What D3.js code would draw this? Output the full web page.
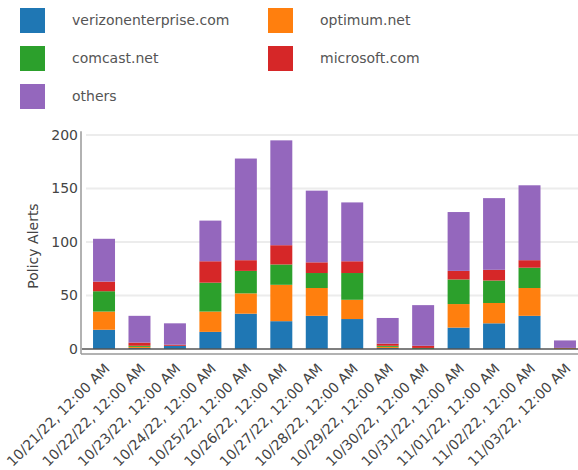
<!DOCTYPE html>
<html>
<head>
<meta charset="utf-8">
<script src="https://cdn.jsdelivr.net/npm/d3@7"></script>
<style>
  body { margin: 0; background: #fff; }
  svg text { font-family: "DejaVu Sans", sans-serif; }
</style>
</head>
<body>
<div id="chart"></div>
<script>
// chart data
const dates = ["10/21/22, 12:00 AM", "10/22/22, 12:00 AM", "10/23/22, 12:00 AM", "10/24/22, 12:00 AM",
    "10/25/22, 12:00 AM", "10/26/22, 12:00 AM", "10/27/22, 12:00 AM", "10/28/22, 12:00 AM",
    "10/29/22, 12:00 AM", "10/30/22, 12:00 AM", "10/31/22, 12:00 AM", "11/01/22, 12:00 AM",
    "11/02/22, 12:00 AM", "11/03/22, 12:00 AM"];
const seriesNames = ["verizonenterprise.com", "optimum.net", "comcast.net", "microsoft.com", "others"];
const verizon   = [18, 1, 3, 16, 33, 26, 31, 28, 1, 0, 20, 24, 31, 0];
const optimum   = [17, 1, 0, 19, 19, 34, 26, 18, 1, 0, 22, 19, 26, 1];
const comcast   = [19, 1, 0, 27, 21, 19, 14, 25, 1, 1, 23, 21, 19, 0];
const microsoft = [9, 3, 1, 20, 10, 18, 10, 11, 2, 2, 8, 10, 7, 0];
const others    = [40, 25, 20, 38, 95, 98, 67, 55, 24, 38, 55, 67, 70, 7];
const yTicks = [0, 50, 100, 150, 200];

const W = 578, H = 470;
const colors = d3.scaleOrdinal(seriesNames, d3.schemeCategory10);

const svg = d3.select('#chart').append('svg')
    .attr('width', W)
    .attr('height', H);

// rows for the stack
const rows = dates.map((d, i) => ({
    date: d,
    "verizonenterprise.com": verizon[i],
    "optimum.net": optimum[i],
    "comcast.net": comcast[i],
    "microsoft.com": microsoft[i],
    "others": others[i]
}));
const stacked = d3.stack().keys(seriesNames)(rows);

const x = d3.scaleBand()
    .domain(dates)
    .range([86.3, 582.7])
    .paddingInner(0.38)
    .paddingOuter(0.19);

const y = d3.scaleLinear()
    .domain([0, 200])
    .range([349, 135]);

// gridlines
svg.append('g')
    .selectAll('line')
    .data(yTicks.filter(t => t > 0))
    .join('line')
    .attr('x1', 86).attr('x2', W)
    .attr('y1', d => y(d)).attr('y2', d => y(d))
    .attr('stroke', '#ececec')
    .attr('stroke-width', 2);

// y axis
const yAxis = svg.append('g')
    .attr('transform', 'translate(78,0)')
    .call(d3.axisLeft(y).tickValues(yTicks).tickSize(0).tickPadding(0));
yAxis.select('.domain').remove();
yAxis.selectAll('text')
    .attr('font-size', 14)
    .attr('fill', '#444')
    .attr('font-family', '"DejaVu Sans", sans-serif');

svg.append('line')
    .attr('x1', 81).attr('x2', 81)
    .attr('y1', y(203.5)).attr('y2', y(0) + 5)
    .attr('stroke', '#999')
    .attr('stroke-width', 1.5);

svg.append('text')
    .attr('transform', `translate(38,${(y(0) + y(200)) / 2 + 4}) rotate(-90)`)
    .attr('text-anchor', 'middle')
    .attr('font-size', 14)
    .attr('fill', '#444')
    .text('Policy Alerts');

// bars
svg.append('g')
    .selectAll('g')
    .data(stacked)
    .join('g')
    .attr('fill', d => colors(d.key))
    .selectAll('rect')
    .data(d => d)
    .join('rect')
    .attr('x', d => x(d.data.date))
    .attr('y', d => y(d[1]))
    .attr('width', x.bandwidth())
    .attr('height', d => y(d[0]) - y(d[1]));

// zero line and bottom axis line
svg.append('line')
    .attr('x1', 82).attr('x2', W)
    .attr('y1', y(0)).attr('y2', y(0))
    .attr('stroke', '#555')
    .attr('stroke-width', 1.5);
svg.append('line')
    .attr('x1', 81).attr('x2', W)
    .attr('y1', y(0) + 5).attr('y2', y(0) + 5)
    .attr('stroke', '#999')
    .attr('stroke-width', 1.5);

// x labels
const xAxis = svg.append('g')
    .attr('transform', `translate(0,${y(0) + 5})`)
    .call(d3.axisBottom(x).tickSize(0).tickPadding(0));
xAxis.select('.domain').remove();
xAxis.selectAll('text')
    .attr('font-size', 14)
    .attr('fill', '#444')
    .attr('font-family', '"DejaVu Sans", sans-serif')
    .attr('text-anchor', 'end')
    .attr('dy', '0.35em')
    .attr('transform', 'translate(3,12) rotate(-45)');

// legend
const legendPos = [[20, 8], [268, 8], [20, 46], [268, 46], [20, 84]];
const legend = svg.append('g')
    .selectAll('g')
    .data(seriesNames)
    .join('g')
    .attr('transform', (d, i) => `translate(${legendPos[i][0]},${legendPos[i][1]})`);
legend.append('rect')
    .attr('width', 25).attr('height', 25)
    .attr('fill', d => colors(d));
legend.append('text')
    .attr('x', 52)
    .attr('y', 12.5)
    .attr('dy', '0.35em')
    .attr('font-size', 14)
    .attr('fill', '#555')
    .text(d => d);
</script>
</body>
</html>
